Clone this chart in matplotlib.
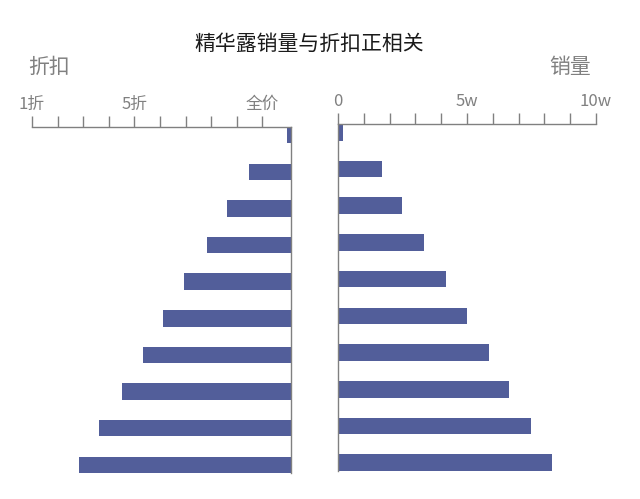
import matplotlib
matplotlib.use('Agg')
import matplotlib.pyplot as plt
import numpy as np

plt.rcParams['font.family'] = ['Noto Sans CJK SC', 'DejaVu Sans']

# data (top to bottom)
discount_len = [0.14, 1.64, 2.5, 3.3, 4.2, 5.0, 5.8, 6.6, 7.5, 8.3]
sales = [0.18, 1.69, 2.49, 3.34, 4.2, 4.99, 5.86, 6.64, 7.5, 8.3]  # 单位: 万
disc_ticks = [1, 2, 3, 4, 5, 6, 7, 8, 9, 10]
disc_labels = ['1折', '', '', '', '5折', '', '', '', '', '全价']
sales_ticks = [0, 1, 2, 3, 4, 5, 6, 7, 8, 9, 10]
sales_labels = ['0', '', '', '', '', '5w', '', '', '', '', '10w']

bar_c = '#525e9a'
grey = '#808080'

fig = plt.figure(figsize=(6.4, 4.99), dpi=100)
axl = fig.add_axes([0.05, 0.0521, 0.4047, 0.6934])
axr = fig.add_axes([0.5281, 0.0561, 0.4031, 0.6954])

y = np.arange(len(sales))

axl.barh(y, discount_len, height=0.45, color=bar_c)
axr.barh(y, sales, height=0.45, color=bar_c)

for ax in (axl, axr):
    ax.set_ylim(9.225, -0.225)
    ax.set_yticks([])
    ax.xaxis.tick_top()
    ax.tick_params(axis='x', direction='out', length=8, width=1, color=grey,
                   labelcolor=grey, labelsize=12, pad=2)
    ax.spines['bottom'].set_visible(False)
    for s in ax.spines.values():
        s.set_color(grey)
        s.set_linewidth(1)

# left panel: 0 at the centre line, growing to the left
axl.set_xlim(10.12, 0)
axl.set_xticks([11.12 - d for d in disc_ticks])
axl.set_xticklabels(disc_labels)
axl.spines['left'].set_visible(False)

axr.set_xlim(0, 10)
axr.set_xticks(sales_ticks)
axr.set_xticklabels(sales_labels)
axr.spines['right'].set_visible(False)

fig.text(0.483, 0.912, '精华露销量与折扣正相关', ha='center', va='center',
         fontsize=15, color='#1a1a1a')
fig.text(0.0766, 0.8657, '折扣', ha='center', va='center', fontsize=15, color=grey)
fig.text(0.8906, 0.8657, '销量', ha='center', va='center', fontsize=15, color=grey)

fig.savefig('out.png', dpi=100)
